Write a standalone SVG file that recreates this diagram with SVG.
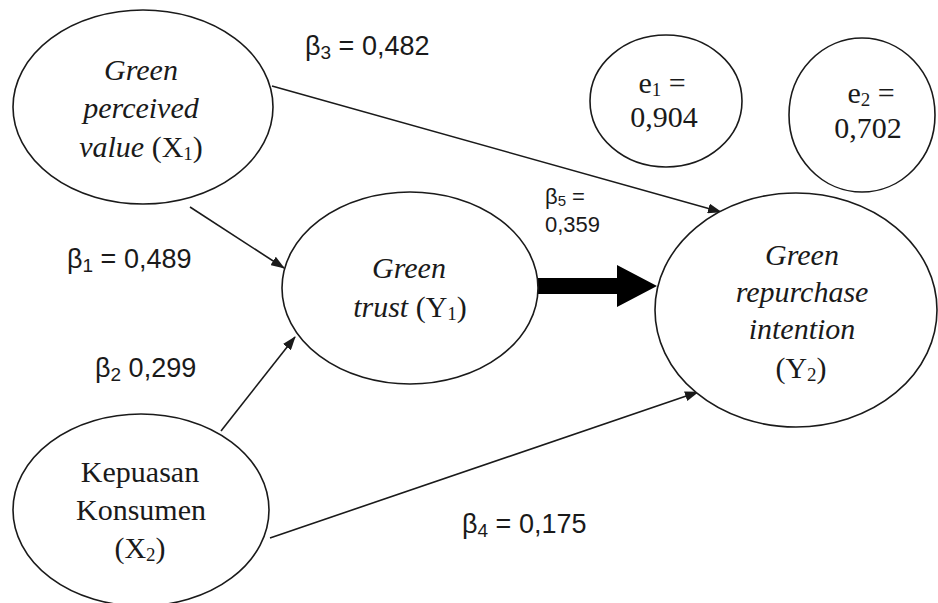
<svg xmlns="http://www.w3.org/2000/svg" width="938" height="603" viewBox="0 0 938 603">
<style>
.node{fill:#fff;stroke:#1a1a1a;stroke-width:1.6}
.lbl{font-family:"Liberation Serif","Times New Roman",serif;font-size:30px;fill:#1a1a1a;text-anchor:middle}
.it{font-style:italic}
.b{font-family:"Liberation Sans",Arial,sans-serif;font-size:27px;fill:#1a1a1a}
.bs{font-family:"Liberation Sans",Arial,sans-serif;font-size:22px;fill:#1a1a1a}
.sub{font-size:19px}
.sub2{font-size:15px}
.conn{stroke:#1a1a1a;stroke-width:1.6;fill:none;marker-end:url(#ah)}
</style>
<defs>
<marker id="ah" viewBox="0 0 14 10" refX="13" refY="5" markerWidth="14" markerHeight="10" markerUnits="userSpaceOnUse" orient="auto">
<path d="M0,0 L14,5 L0,10 Z" fill="#1a1a1a"/>
</marker>
</defs>
<rect width="938" height="603" fill="#fff"/>
<g id="connectors">
<line class="conn" x1="272" y1="86" x2="721" y2="212"/>
<line class="conn" x1="190" y1="207" x2="284" y2="268"/>
<line class="conn" x1="221" y1="431" x2="295" y2="337"/>
<line class="conn" x1="270" y1="538" x2="698" y2="392"/>
<polygon points="538,278 617,278 617,265 657,286 617,307 617,294 538,294" fill="#000"/>
</g>
<g id="X1">
<ellipse class="node" cx="143" cy="107" rx="130" ry="97"/>
<text class="lbl it" x="141" y="80">Green</text>
<text class="lbl it" x="141" y="118">perceived</text>
<text class="lbl" x="141" y="157"><tspan class="it">value</tspan> (X<tspan class="sub" dy="3">1</tspan><tspan dy="-3">)</tspan></text>
</g>
<g id="Y1">
<ellipse class="node" cx="410" cy="288" rx="128" ry="96"/>
<text class="lbl it" x="409" y="278">Green</text>
<text class="lbl" x="410" y="317"><tspan class="it">trust</tspan> (Y<tspan class="sub" dy="3">1</tspan><tspan dy="-3">)</tspan></text>
</g>
<g id="Y2">
<ellipse class="node" cx="796" cy="310" rx="141" ry="117"/>
<text class="lbl it" x="802" y="265">Green</text>
<text class="lbl it" x="802" y="302">repurchase</text>
<text class="lbl it" x="802" y="339">intention</text>
<text class="lbl" x="801" y="378">(Y<tspan class="sub" dy="3">2</tspan><tspan dy="-3">)</tspan></text>
</g>
<g id="X2">
<ellipse class="node" cx="141" cy="510" rx="128" ry="96"/>
<text class="lbl" x="140" y="482">Kepuasan</text>
<text class="lbl" x="141" y="520">Konsumen</text>
<text class="lbl" x="140" y="558">(X<tspan class="sub" dy="3">2</tspan><tspan dy="-3">)</tspan></text>
</g>
<g id="e1">
<ellipse class="node" cx="666" cy="101" rx="76" ry="66"/>
<text class="lbl" x="662" y="93">e<tspan class="sub" dy="3">1</tspan><tspan dy="-3"> =</tspan></text>
<text class="lbl" x="664" y="127">0,904</text>
</g>
<g id="e2">
<ellipse class="node" cx="862" cy="115" rx="73" ry="77"/>
<text class="lbl" x="871" y="103">e<tspan class="sub" dy="3">2</tspan><tspan dy="-3"> =</tspan></text>
<text class="lbl" x="868" y="138">0,702</text>
</g>
<g id="labels">
<text class="b" x="305" y="55">β<tspan class="sub" dy="4">3</tspan><tspan dy="-4"> = 0,482</tspan></text>
<text class="bs" x="545" y="204">β<tspan class="sub2" dy="2">5</tspan><tspan dy="-2"> =</tspan></text>
<text class="bs" x="545" y="232">0,359</text>
<text class="b" x="67" y="268">β<tspan class="sub" dy="4">1</tspan><tspan dy="-4"> = 0,489</tspan></text>
<text class="b" x="95" y="377">β<tspan class="sub" dy="4">2</tspan><tspan dy="-4"> 0,299</tspan></text>
<text class="b" x="462" y="533">β<tspan class="sub" dy="4">4</tspan><tspan dy="-4"> = 0,175</tspan></text>
</g>
</svg>
